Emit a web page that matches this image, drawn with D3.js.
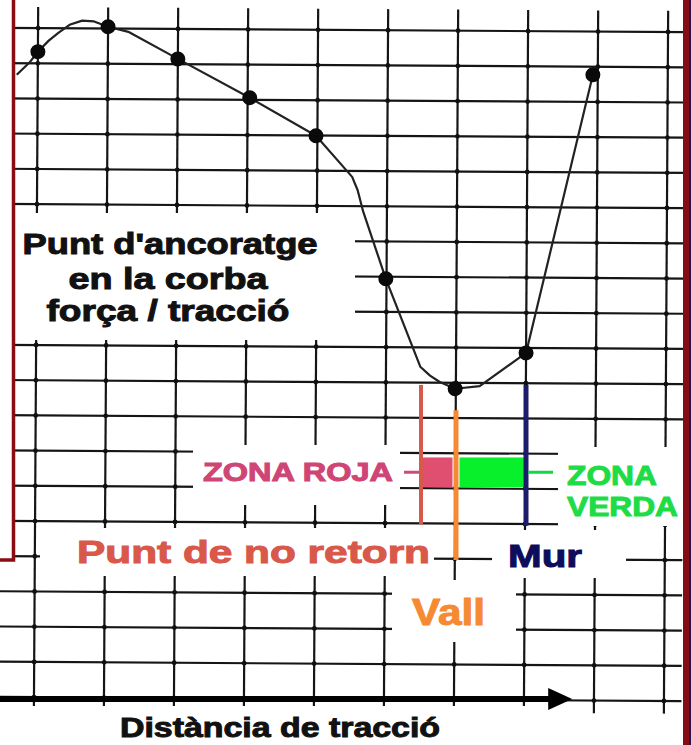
<!DOCTYPE html>
<html>
<head>
<meta charset="utf-8">
<script src="https://cdn.jsdelivr.net/npm/d3@7"></script>
<style>
body { margin: 0; background: #fff; }
svg { display: block; }
text { font-family: "Liberation Sans", Arial, sans-serif; font-weight: 700; }
</style>
</head>
<body>
<div id="chart"></div>
<script>
var w = 691,
  h = 745;

// squares of the scanned sheet
var gridCols = [0, 1, 2, 3, 4, 5, 6, 7, 8, 9];
var gridRows = [0, 1, 2, 3, 4, 5, 6, 7, 8, 9, 10, 11, 12, 13, 14, 15, 16, 17, 18, 19];

// force / traction curve, in squares
var curveX = [-0.30, -0.12, 0, 0.15, 0.29, 0.45, 0.63, 0.8, 1, 1.29, 2, 3.03, 3.98, 4.5, 4.58, 4.66, 4.99, 5.49, 5.63, 5.77, 5.99, 6.34, 7, 7.93];
var curveY = [17.67, 18.02, 18.33, 18.64, 18.87, 19.1, 19.22, 19.2, 19.05, 18.91, 18.15, 17.06, 15.99, 14.83, 14.45, 13.85, 11.94, 9.45, 9.2, 9.02, 8.83, 8.91, 9.86, 17.77];

// anchor points drawn on the curve
var dotX = [0, 1, 2, 3.03, 3.98, 4.99, 5.99, 7, 7.93];
var dotY = [18.33, 19.05, 18.15, 17.06, 15.99, 11.94, 8.83, 9.86, 17.77];

// vertical markers
var markerNames = ["Punt de no retorn", "Vall", "Mur"];
var markerX = [5.5, 6, 7];
var markerTop = [8.92, 8.2, 8.92];
var markerBottom = [4.95, 3.95, 4.92];

// zones between the markers
var zoneNames = ["ZONA ROJA", "ZONA VERDA"];
var zoneFrom = [5.5, 6.05];
var zoneTo = [5.95, 6.97];
var zoneTop = 6.86;
var zoneBottom = 6.02;

var axisEnd = 7.66;
var axisTitle = "Distància de tracció";
var anchorTitle = ["Punt d'ancoratge", "en la corba", "força / tracció"];

var x = d3.scaleLinear().domain([0, 9]).range([36, 666]);
var y = d3.scaleLinear().domain([0, 19]).range([699, 30]);

var svg = d3.select("#chart").append("svg").attr("width", w).attr("height", h);
svg.append("rect").attr("width", w).attr("height", h).attr("fill", "#fff");

// scanned sheet is slightly tilted
var sheet = svg.append("g").attr("transform", "rotate(0.35,345,365)");

sheet.selectAll(".vline").data(gridCols).enter().append("line")
  .attr("x1", function (d) { return x(d); }).attr("x2", function (d) { return x(d); })
  .attr("y1", y(19.6)).attr("y2", y(-0.36))
  .attr("stroke", "#151515").attr("stroke-width", 2.2);

sheet.selectAll(".hline").data(gridRows).enter().append("line")
  .attr("x1", x(-0.6)).attr("x2", x(9.25))
  .attr("y1", function (d) { return y(d); }).attr("y2", function (d) { return y(d); })
  .attr("stroke", "#151515").attr("stroke-width", 2.2);

var cross = [];
gridCols.forEach(function (c) { gridRows.forEach(function (r) { cross.push([c, r]); }); });
sheet.selectAll(".cross").data(cross).enter().append("circle")
  .attr("cx", function (d) { return x(d[0]); })
  .attr("cy", function (d) { return y(d[1]); })
  .attr("r", 2.4).attr("fill", "#111");

var line = d3.line()
  .x(function (d) { return x(d[0]); })
  .y(function (d) { return y(d[1]); })
  .curve(d3.curveLinear);

sheet.append("path")
  .attr("d", line(curveX.map(function (v, i) { return [v, curveY[i]]; })))
  .attr("fill", "none").attr("stroke", "#222").attr("stroke-width", 2.2)
  .attr("stroke-linejoin", "round");

sheet.selectAll(".dot").data(dotX).enter().append("circle")
  .attr("cx", function (d) { return x(d); })
  .attr("cy", function (d, i) { return y(dotY[i]); })
  .attr("r", 7.5).attr("fill", "#0a0a0a");

// white patches pasted under the labels
var masks = [
  [15, 213, 340, 127],
  [193, 445, 207, 60],
  [558, 447, 125, 79],
  [40, 528, 394, 48],
  [492, 530, 134, 48],
  [392, 580, 124, 62],
  [0, 0, 12, 560],
  [0, 706, 578, 39]
];
svg.selectAll(".mask").data(masks).enter().append("rect")
  .attr("x", function (d) { return d[0]; }).attr("y", function (d) { return d[1]; })
  .attr("width", function (d) { return d[2]; }).attr("height", function (d) { return d[3]; })
  .attr("fill", "#fff");

// frame
svg.append("path").attr("d", "M13.5,0 V560 H0").attr("fill", "none")
  .attr("stroke", "#8a0d12").attr("stroke-width", 3.5);
svg.append("rect").attr("x", 683).attr("y", 0).attr("width", 6).attr("height", h).attr("fill", "#860c14");
svg.append("rect").attr("x", 689).attr("y", 0).attr("width", 2).attr("height", h).attr("fill", "#2a1050");

// distance axis
svg.append("line").attr("x1", 0).attr("x2", x(axisEnd) - 18)
  .attr("y1", y(0)).attr("y2", y(0))
  .attr("stroke", "#000").attr("stroke-width", 6);
svg.append("path")
  .attr("d", "M" + x(axisEnd) + "," + y(0) + " L" + (x(axisEnd) - 24) + "," + (y(0) - 11) +
    " L" + (x(axisEnd) - 24) + "," + (y(0) + 11) + "Z")
  .attr("fill", "#000");

// zones
var zoneColors = ["#e04e70", "#08f02c"];
svg.selectAll(".zone").data(zoneNames).enter().append("rect")
  .attr("x", function (d, i) { return x(zoneFrom[i]); })
  .attr("width", function (d, i) { return x(zoneTo[i]) - x(zoneFrom[i]); })
  .attr("y", y(zoneTop)).attr("height", y(zoneBottom) - y(zoneTop))
  .attr("fill", function (d, i) { return zoneColors[i]; });

// markers
var markerColors = ["#d65a4a", "#f68a32", "#1c1c6c"];
svg.selectAll(".marker").data(markerNames).enter().append("line")
  .attr("x1", function (d, i) { return x(markerX[i]); })
  .attr("x2", function (d, i) { return x(markerX[i]); })
  .attr("y1", function (d, i) { return y(markerTop[i]); })
  .attr("y2", function (d, i) { return y(markerBottom[i]); })
  .attr("stroke", function (d, i) { return markerColors[i]; })
  .attr("stroke-width", function (d, i) { return i == 0 ? 4 : 5; });

// little leader dashes
var zy = (y(zoneTop) + y(zoneBottom)) / 2;
svg.append("line").attr("x1", 404).attr("x2", 419).attr("y1", zy).attr("y2", zy)
  .attr("stroke", "#d04a72").attr("stroke-width", 3);
svg.append("line").attr("x1", x(7) + 2).attr("x2", 553).attr("y1", zy).attr("y2", zy)
  .attr("stroke", "#14d840").attr("stroke-width", 3);

function label(txt, tx, ty, size, color, len, anchor) {
  return svg.append("text")
    .attr("x", tx).attr("y", ty)
    .attr("text-anchor", anchor || "start")
    .attr("font-size", size)
    .attr("fill", color).attr("stroke", color).attr("stroke-width", 1)
    .attr("textLength", len).attr("lengthAdjust", "spacingAndGlyphs")
    .text(txt);
}

label(anchorTitle[0], 170, 254, 29, "#111", 295, "middle");
label(anchorTitle[1], 168, 289, 29, "#111", 199, "middle");
label(anchorTitle[2], 168, 321, 29, "#111", 243, "middle");

label(zoneNames[0], 203, 481, 26, "#cf4575", 190);
label("ZONA", 567, 485, 28, "#1edc46", 90);
label("VERDA", 567, 516, 28, "#1edc46", 111);

label(markerNames[0], 77, 563, 31, "#d8584a", 353);
label(markerNames[2], 508, 567, 31, "#0d0d5c", 74);
label(markerNames[1], 412, 625, 36, "#f68a32", 73);

label(axisTitle, 120, 737, 28, "#111", 320);
</script>
</body>
</html>
